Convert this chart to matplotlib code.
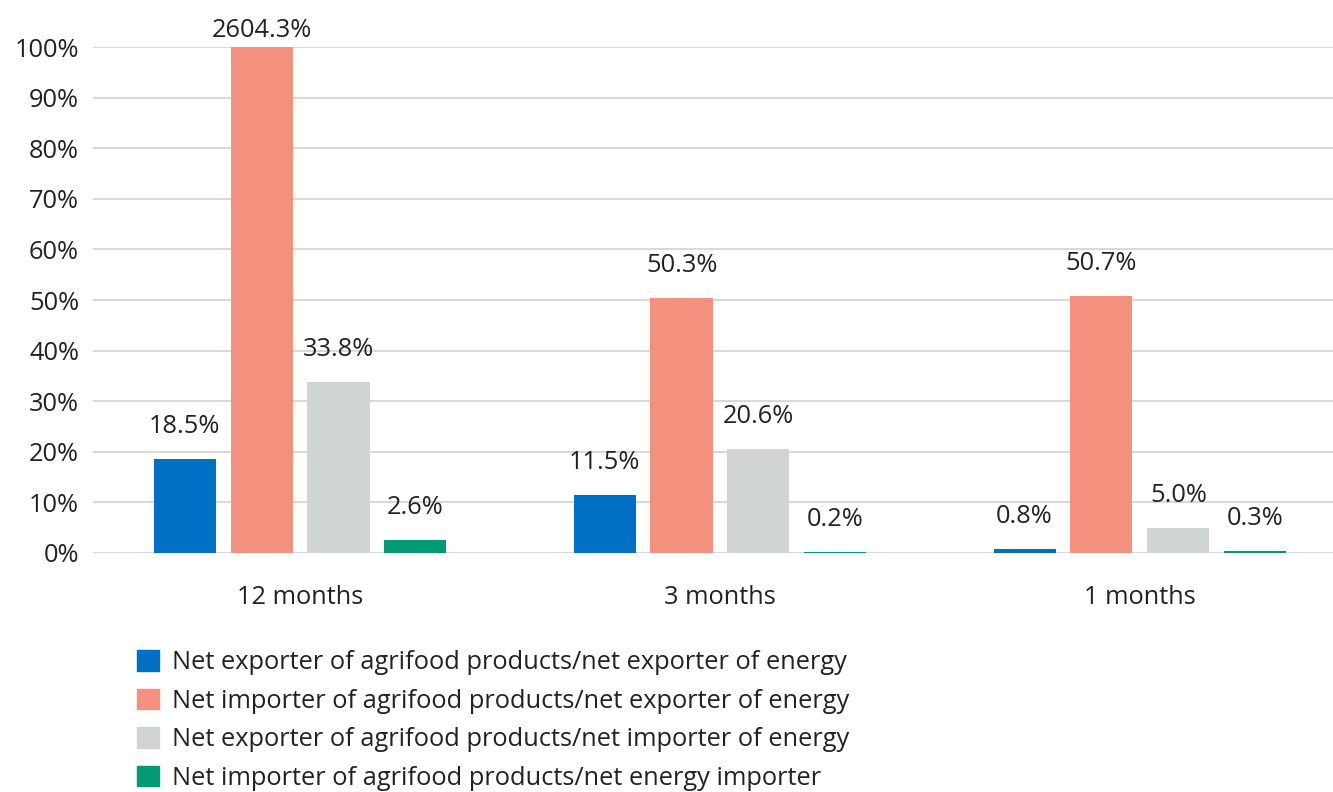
import matplotlib.pyplot as plt
import matplotlib.patches as mpatches
import numpy as np

plt.rcParams['font.family'] = ['Open Sans', 'DejaVu Sans']

# Datos
periodos = ["12 months", "3 months", "1 months"]
series = [
    "Net exporter of agrifood products/net exporter of energy",
    "Net importer of agrifood products/net exporter of energy",
    "Net exporter of agrifood products/net importer of energy",
    "Net importer of agrifood products/net energy importer",
]
valores = [
    [18.5, 11.5, 0.8],
    [2604.3, 50.3, 50.7],
    [33.8, 20.6, 5.0],
    [2.6, 0.2, 0.3],
]
colores = ["#0070C4", "#F4907E", "#D0D4D4", "#009B73"]
fs = 18.3

fig = plt.figure(figsize=(13.33, 7.92), dpi=100)
ax = fig.add_axes([93 / 1333, 239 / 792, 1240 / 1333, 506 / 792])

x = np.arange(len(periodos))
ancho = 0.148
paso = 0.183

for i, (nombre, vals, color) in enumerate(zip(series, valores, colores)):
    pos = x + (i - 1.5) * paso
    ax.bar(pos, vals, width=ancho, color=color, label=nombre, zorder=3)
    for p, v in zip(pos, vals):
        off = 4 if v > 100 else 20
        ax.annotate(f"{v:.1f}%", xy=(p, min(v, 100)), xytext=(0, off),
                    textcoords='offset pixels', ha='center', va='bottom',
                    fontsize=fs, color='#222222', annotation_clip=False)

ax.set_xlim(-0.493, 2.46)
ax.set_ylim(0, 100)
ax.set_yticks(np.arange(0, 101, 10))
ax.set_yticklabels([f"{t}%" for t in range(0, 101, 10)])
ax.set_xticks(x)
ax.set_xticklabels(periodos)
ax.tick_params(axis='both', length=0, labelsize=fs, labelcolor='#222222')
ax.tick_params(axis='y', pad=10)
ax.tick_params(axis='x', pad=23)
ax.grid(axis='y', color='#D9D9D9', linewidth=1.5, zorder=0)
for s in ax.spines.values():
    s.set_visible(False)

handles = [mpatches.Patch(color=c, label=n) for n, c in zip(series, colores)]
fig.legend(handles=handles, loc='upper left', bbox_to_anchor=(127 / 1333, 1 - 640 / 792),
           frameon=False, fontsize=fs, handlelength=0.86, handleheight=0.86,
           handletextpad=0.5, labelspacing=0.53, borderaxespad=0, labelcolor='#222222')

fig.savefig("out.png", dpi=100)
